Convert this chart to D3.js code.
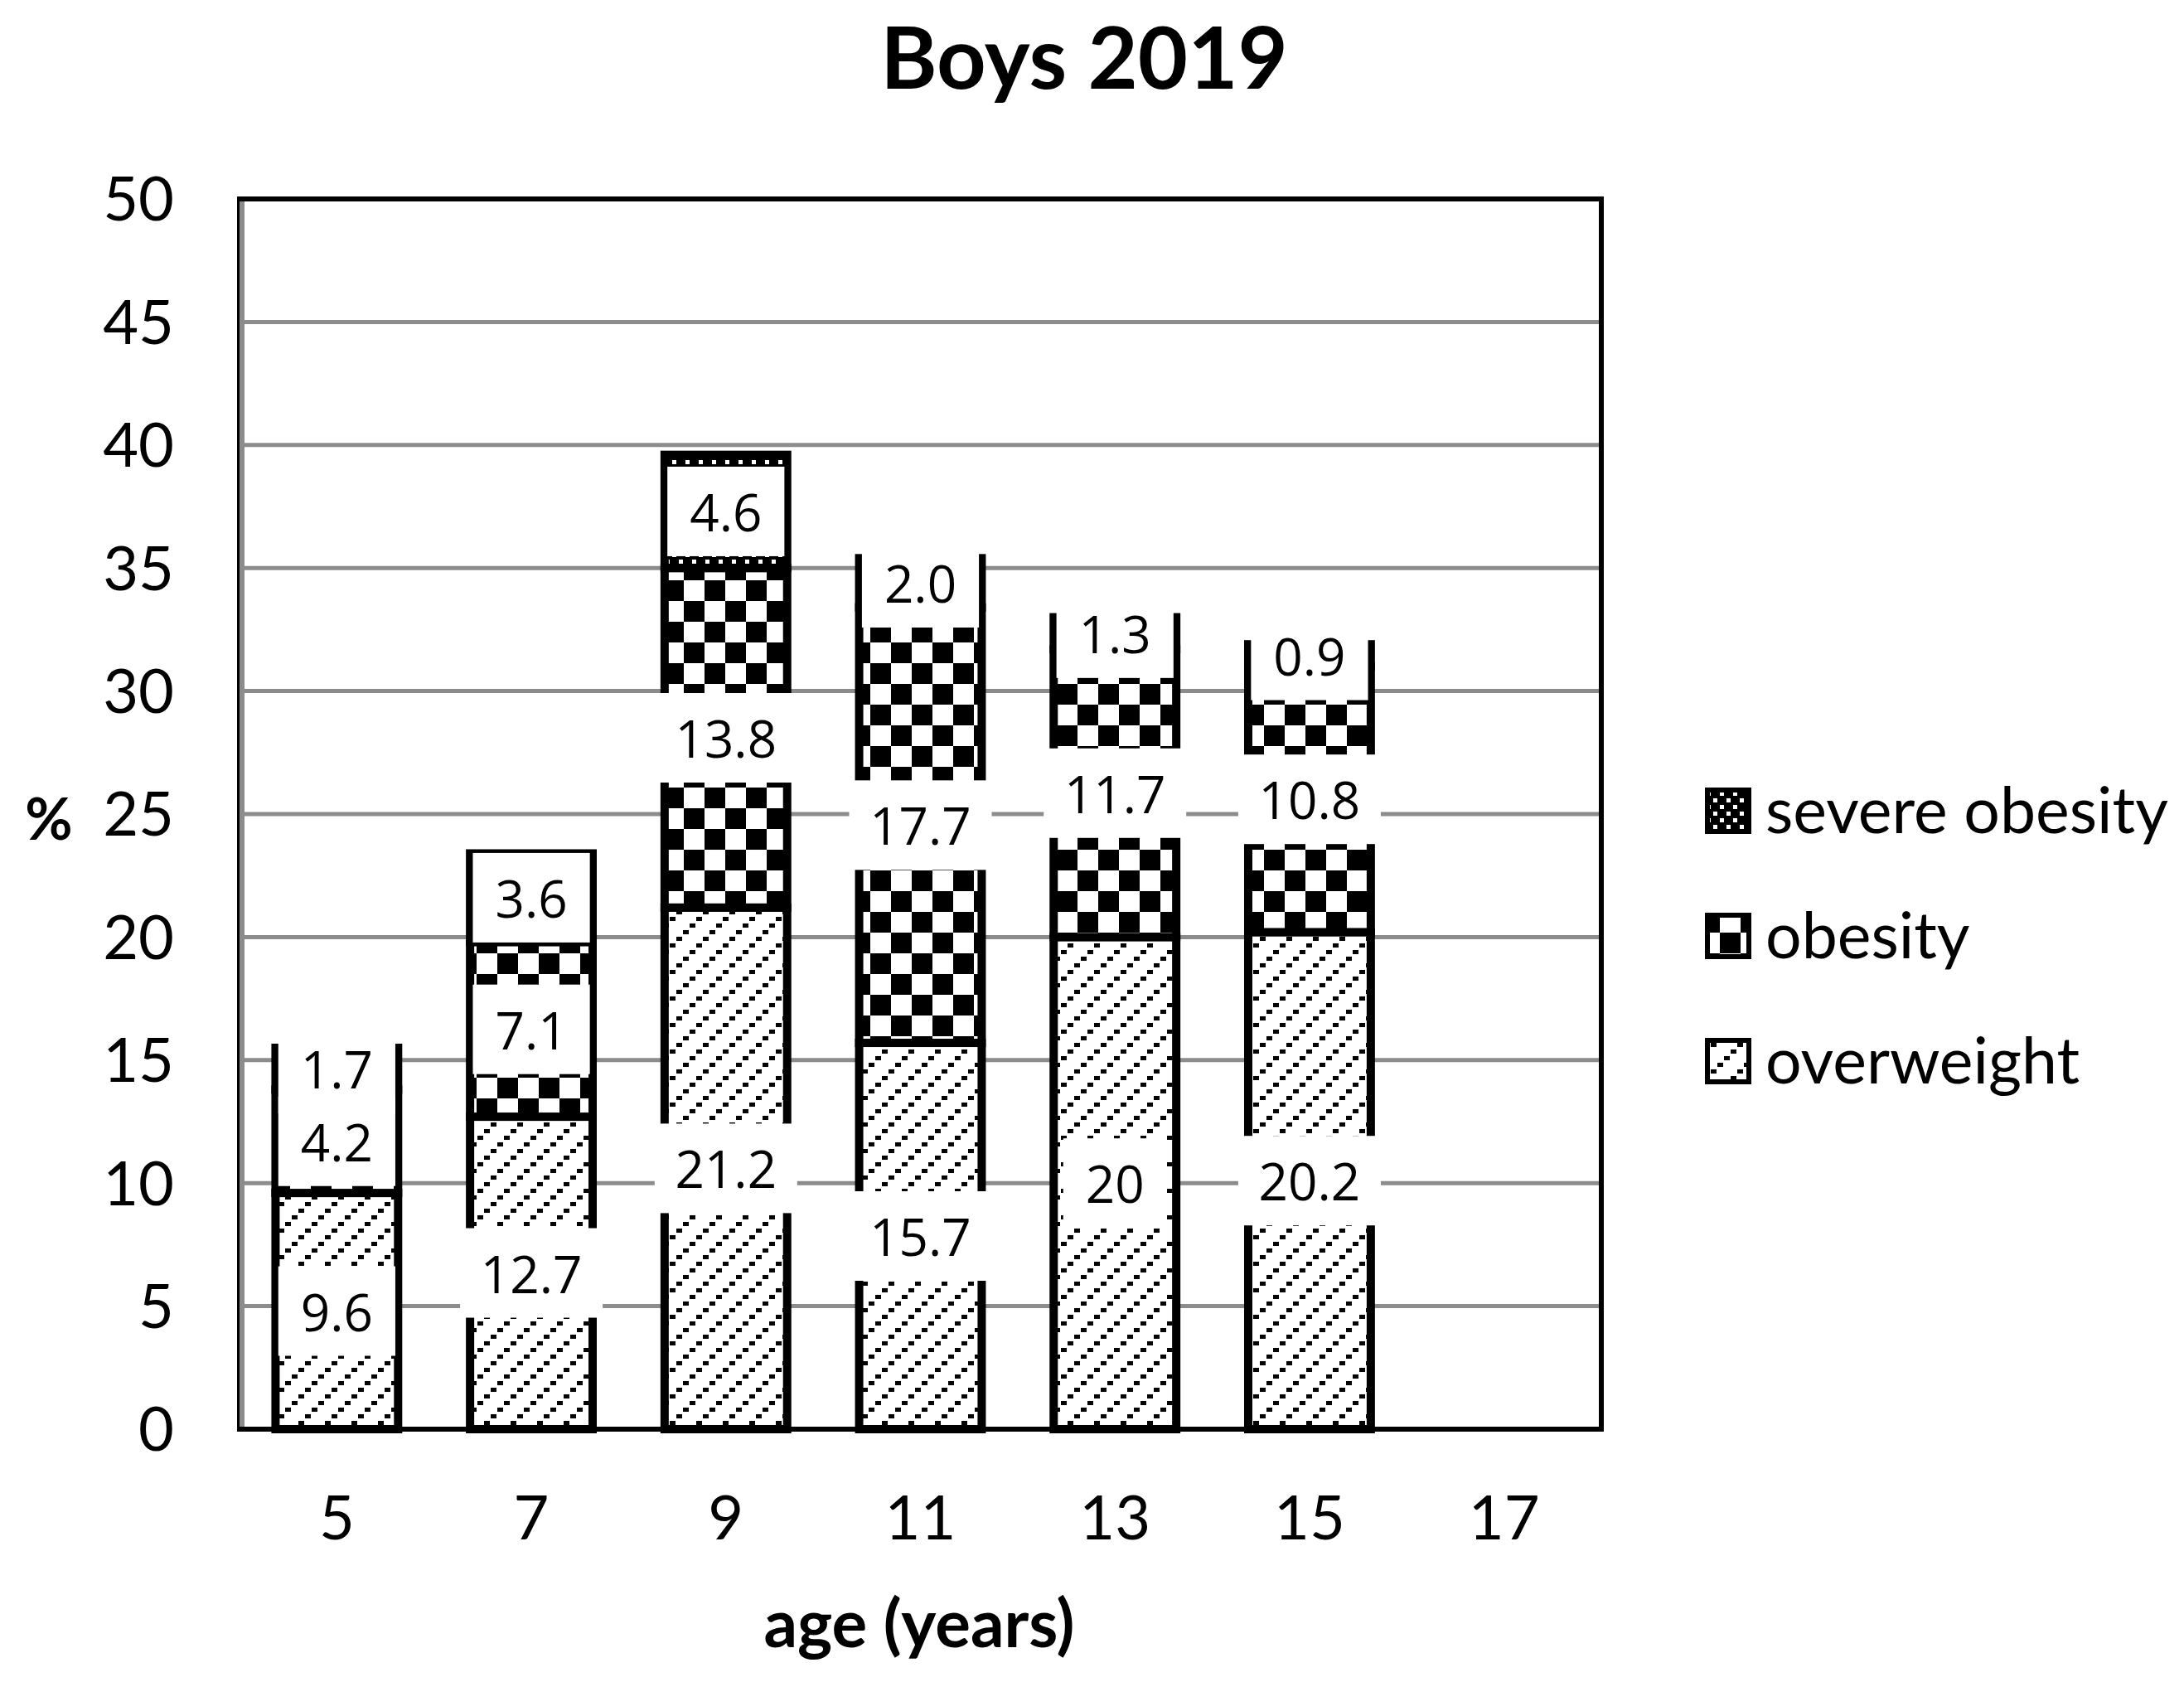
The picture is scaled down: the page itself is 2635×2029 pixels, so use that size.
<!DOCTYPE html>
<html>
<head>
<meta charset="utf-8">
<script src="https://cdn.jsdelivr.net/npm/d3@7"></script>
<style>
  body { margin: 0; background: #fff; }
  svg { display: block; }
</style>
</head>
<body>
<div id="chart"></div>
<script>
// data
var ages = ["5", "7", "9", "11", "13", "15", "17"];
var overweight = [9.6, 12.7, 21.2, 15.7, 20, 20.2, null];
var obesity = [4.2, 7.1, 13.8, 17.7, 11.7, 10.8, null];
var severeObesity = [1.7, 3.6, 4.6, 2.0, 1.3, 0.9, null];
var seriesNames = ["overweight", "obesity", "severe obesity"];
var yTicks = [0, 5, 10, 15, 20, 25, 30, 35, 40, 45, 50];

var svgWidth = 2635;
var svgHeight = 2029;

var plot = { left: 289, right: 1932, top: 240, bottom: 1724 };

var svg = d3.select("#chart")
  .append("svg")
  .attr("width", svgWidth)
  .attr("height", svgHeight);

// patterns
var defs = svg.append("defs");

var diag = defs.append("pattern")
  .attr("id", "pat-overweight")
  .attr("patternUnits", "userSpaceOnUse")
  .attr("width", 32).attr("height", 32);
diag.append("rect").attr("width", 32).attr("height", 32).attr("fill", "#fff");
[[0, 26], [8, 18], [16, 10], [24, 2]].forEach(function(p) {
  diag.append("rect").attr("x", p[0]).attr("y", p[1])
    .attr("width", 7).attr("height", 5).attr("fill", "#000");
});

var check = defs.append("pattern")
  .attr("id", "pat-obesity")
  .attr("patternUnits", "userSpaceOnUse")
  .attr("width", 50).attr("height", 50);
check.append("rect").attr("width", 50).attr("height", 50).attr("fill", "#fff");
check.append("rect").attr("width", 25).attr("height", 25).attr("fill", "#000");
check.append("rect").attr("x", 25).attr("y", 25).attr("width", 25).attr("height", 25).attr("fill", "#000");

var dots = defs.append("pattern")
  .attr("id", "pat-severe")
  .attr("patternUnits", "userSpaceOnUse")
  .attr("width", 16).attr("height", 16);
dots.append("rect").attr("width", 16).attr("height", 16).attr("fill", "#000");
dots.append("rect").attr("x", 3).attr("y", 3).attr("width", 5).attr("height", 5).attr("fill", "#fff");
dots.append("rect").attr("x", 11).attr("y", 11).attr("width", 5).attr("height", 5).attr("fill", "#fff");

var patternIds = ["pat-overweight", "pat-obesity", "pat-severe"];

// scales
var xScale = d3.scaleBand()
  .domain(ages)
  .range([plot.left, plot.right])
  .paddingInner(0.37)
  .paddingOuter(0.185);

var yScale = d3.scaleLinear()
  .domain([0, 50])
  .range([plot.bottom, plot.top]);

// gridlines
svg.append("g")
  .selectAll("line")
  .data(yTicks.slice(1, -1))
  .enter()
  .append("line")
  .attr("x1", plot.left)
  .attr("x2", plot.right)
  .attr("y1", d => yScale(d))
  .attr("y2", d => yScale(d))
  .attr("stroke", "#8c8c8c")
  .attr("stroke-width", 5);

// plot frame
svg.append("rect")
  .attr("x", plot.left)
  .attr("y", plot.top)
  .attr("width", plot.right - plot.left)
  .attr("height", plot.bottom - plot.top)
  .attr("fill", "none")
  .attr("stroke", "#000")
  .attr("stroke-width", 6);
svg.append("line")
  .attr("x1", plot.left + 3).attr("x2", plot.left + 3)
  .attr("y1", plot.top + 3).attr("y2", plot.bottom - 3)
  .attr("stroke", "#8c8c8c")
  .attr("stroke-width", 6);

// stacked data
var rows = ages.map(function(a, i) {
  return { age: a, overweight: overweight[i], obesity: obesity[i], "severe obesity": severeObesity[i] };
}).filter(d => d.overweight != null);

var stacked = d3.stack().keys(seriesNames)(rows);

var barGroup = svg.append("g");
stacked.forEach(function(layer, k) {
  barGroup.selectAll(".s" + k)
    .data(layer)
    .enter()
    .append("rect")
    .attr("x", d => xScale(d.data.age))
    .attr("y", d => yScale(d[1]))
    .attr("width", xScale.bandwidth())
    .attr("height", d => yScale(d[0]) - yScale(d[1]))
    .attr("fill", "url(#" + patternIds[k] + ")")
    .attr("stroke", "#000")
    .attr("stroke-width", 10);
});

// data labels with white boxes
var labelGroup = svg.append("g");
stacked.forEach(function(layer, k) {
  layer.forEach(function(d) {
    var v = d.data[seriesNames[k]];
    var txt = k === 2 ? v.toFixed(1) : String(v);
    var cx = xScale(d.data.age) + xScale.bandwidth() / 2;
    var cy = yScale((d[0] + d[1]) / 2);
    var g = labelGroup.append("g");
    var box = g.append("rect").attr("fill", "#fff");
    var t = g.append("text")
      .attr("x", cx)
      .attr("y", cy)
      .attr("text-anchor", "middle")
      .attr("dominant-baseline", "central")
      .attr("font-family", "'Open Sans', sans-serif")
      .attr("font-size", 62)
      .attr("fill", "#000")
      .text(txt);
    var w = Math.min(t.node().getComputedTextLength() + 54, 172);
    box.attr("x", cx - w / 2).attr("y", cy - 54).attr("width", w).attr("height", 108);
  });
});

// axes
var leftAxis = d3.axisLeft(yScale).tickValues(yTicks).tickSize(0).tickPadding(0);
var yAxisG = svg.append("g")
  .attr("transform", "translate(210,0)")
  .call(leftAxis);
yAxisG.select(".domain").remove();
yAxisG.selectAll("text")
  .attr("font-family", "Lato, sans-serif")
  .attr("font-size", 74)
  .attr("fill", "#000")
  .attr("dy", "0.35em");

var bottomAxis = d3.axisBottom(xScale).tickSize(0).tickPadding(0);
var xAxisG = svg.append("g")
  .attr("transform", "translate(0,1831)")
  .call(bottomAxis);
xAxisG.select(".domain").remove();
xAxisG.selectAll("text")
  .attr("font-family", "Lato, sans-serif")
  .attr("font-size", 74)
  .attr("fill", "#000")
  .attr("dy", "0.35em");

// titles
svg.append("text")
  .attr("x", 1308)
  .attr("y", 107)
  .attr("text-anchor", "middle")
  .attr("font-family", "Lato, sans-serif")
  .attr("font-weight", "bold")
  .attr("font-size", 104)
  .text("Boys 2019");

svg.append("text")
  .attr("x", 1109)
  .attr("y", 1987)
  .attr("text-anchor", "middle")
  .attr("font-family", "Lato, sans-serif")
  .attr("font-weight", "bold")
  .attr("font-size", 80)
  .text("age (years)");

svg.append("text")
  .attr("x", 59)
  .attr("y", 1013)
  .attr("text-anchor", "middle")
  .attr("font-family", "Lato, sans-serif")
  .attr("font-weight", "bold")
  .attr("font-size", 70)
  .text("%");

// legend
var legendItems = seriesNames.slice().reverse();
var legend = svg.append("g");
legendItems.forEach(function(name, i) {
  var cy = 978 + i * 151;
  legend.append("rect")
    .attr("x", 2060)
    .attr("y", cy - 25)
    .attr("width", 50)
    .attr("height", 50)
    .attr("fill", "url(#" + patternIds[seriesNames.indexOf(name)] + ")")
    .attr("stroke", "#000")
    .attr("stroke-width", 6);
  legend.append("text")
    .attr("x", 2130)
    .attr("y", cy)
    .attr("dy", "0.35em")
    .attr("font-family", "Lato, sans-serif")
    .attr("font-size", 77)
    .text(name);
});
</script>
</body>
</html>
